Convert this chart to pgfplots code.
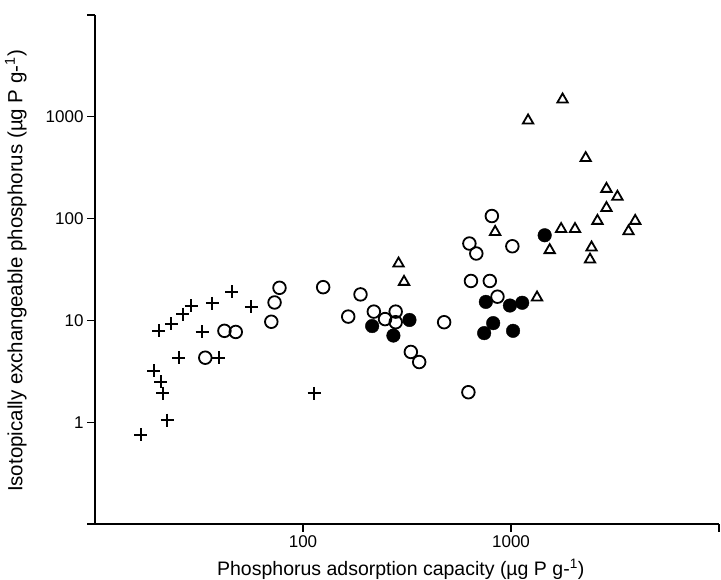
\documentclass[border=0pt]{standalone}
\usepackage{pgfplots}
\pgfplotsset{compat=1.18}
\usepackage{fontspec}
\setmainfont{Liberation Sans}
\begin{document}
\begin{tikzpicture}
\path[use as bounding box] (-95pt,-55pt) rectangle (626pt,524pt);
\begin{axis}[
  scale only axis,
  width=624pt, height=509pt,
  xmode=log, ymode=log,
  xmin=10, xmax=10000, ymin=0.1, ymax=10000,
  axis x line*=bottom, axis y line*=left,
  axis line style={line width=1.6pt,-},
  xtick={100,1000,10000}, xticklabels={100,1000,},
  ytick={0.1,1,10,100,1000,10000}, yticklabels={,1,10,100,1000,},
  minor tick num=0,
  xminorticks=false, yminorticks=false,
  tick style={line width=1.4pt,black},
  major tick length=8pt,
  tick align=outside,
  /pgf/number format/assume math mode=true,
  ticklabel style={font=\fontsize{17}{20}\selectfont},
  every axis x label/.style={at={(axis description cs:0.49,-0.089)},anchor=center,font=\fontsize{19.5}{22}\selectfont},
  every axis y label/.style={at={(axis description cs:-0.127,0.497)},anchor=center,rotate=90,font=\fontsize{20.5}{23}\selectfont},
  xlabel={Phosphorus adsorption capacity (µg P g-\textsuperscript{1})},
  ylabel={Isotopically exchangeable phosphorus (µg P g-\textsuperscript{1})},
  clip=false,
]
% crosses
\addplot[only marks, mark=+, mark size=6.5pt, mark options={line width=2pt,black}] coordinates {
(16.6,0.75) (22.3,1.05) (21.2,1.92) (20.7,2.5) (19.2,3.2) (25.3,4.3) (39.3,4.3)
(20.2,7.9) (23.3,9.3) (26.4,11.5) (29.0,13.9) (32.7,7.7) (36.7,14.7) (45.4,19.2)
(56.5,13.6) (113,1.92)
};
% open circles
\addplot[only marks, mark=o, mark size=6.3pt, mark options={line width=1.8pt,black}] coordinates {
(33.9,4.3) (41.9,7.9) (47.5,7.7) (70.4,9.7) (73.0,15.0) (77.1,20.9) (125,21.2)
(189,18.0) (165,10.9) (219,12.2) (248,10.3) (279,12.2) (279,9.6) (330,4.9) (362,3.9)
(477,9.6) (624,1.97) (642,24.4) (791,24.4) (681,45.4) (631,56.9) (809,106)
(1015,53.5) (861,17.1)
};
% filled circles
\addplot[only marks, mark=*, mark size=6.8pt, mark options={black,fill=black}] coordinates {
(215,8.8) (272,7.1) (325,10.1) (757,15.2) (821,9.4) (743,7.5) (988,14.0)
(1132,14.9) (1023,7.9) (1452,68.6)
};
% triangles
\addplot[only marks, mark=triangle, mark size=6pt, mark options={line width=1.8pt,black}] coordinates {
(1770,1479) (1208,920) (2286,393) (2877,196) (3248,164) (2877,127) (2604,95)
(3955,95) (3673,75) (1742,79) (2031,79) (1535,49) (2439,52) (2398,39.6)
(839,74) (1334,16.8) (288,36.2) (306,23.9)
};
\end{axis}
\end{tikzpicture}
\end{document}
